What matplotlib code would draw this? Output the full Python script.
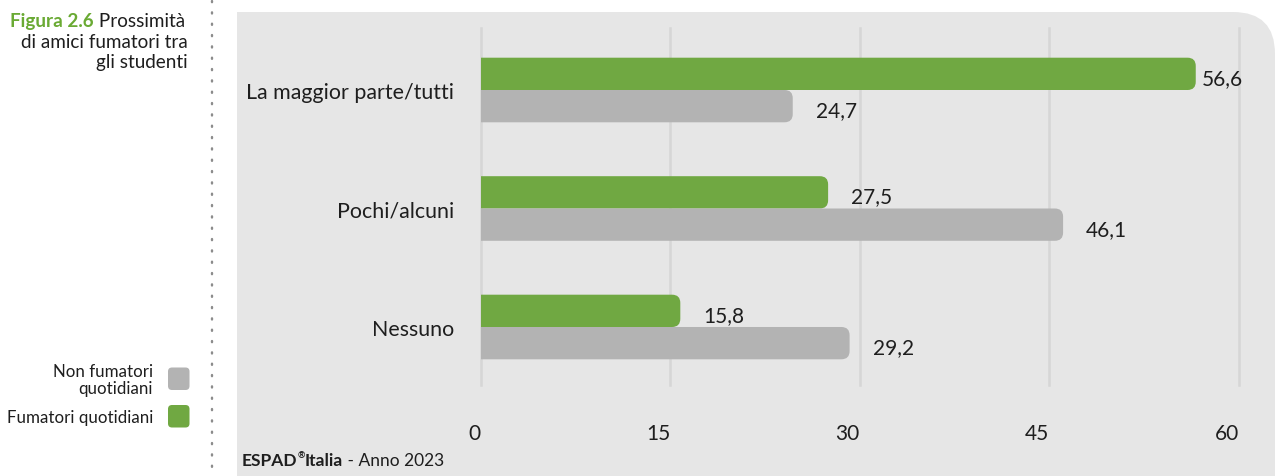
import matplotlib
matplotlib.use("Agg")
import matplotlib.pyplot as plt
from matplotlib.patches import FancyBboxPatch, Rectangle
import numpy as np

# --- DATA ---------------------------------------------------------------------
categories = ["La maggior parte/tutti", "Pochi/alcuni", "Nessuno"]
fumatori = [56.6, 27.5, 15.8]
non_fumatori = [24.7, 46.1, 29.2]
ticks = [0, 15, 30, 45, 60]
series_names = ["Non fumatori\nquotidiani", "Fumatori quotidiani"]

# --- STYLE --------------------------------------------------------------------
GREEN = "#70A842"
GREY = "#B3B3B3"
PANEL = "#E6E6E6"
GRID = "#D6D6D6"
TEXT = "#1E1E1E"
TITLE_GREEN = "#6AAA34"

plt.rcParams["font.family"] = ["Lato", "DejaVu Sans"]

W, H = 1275, 477
fig = plt.figure(figsize=(W / 100, H / 100), dpi=100)
fig.patch.set_facecolor("white")

# background layer in pixel units
bg = fig.add_axes([0, 0, 1, 1], zorder=0)
bg.set_xlim(0, W)
bg.set_ylim(H, 0)
bg.axis("off")

# grey panel with a rounded top-right corner
bg.add_patch(FancyBboxPatch((237, 13), W - 237, H + 60,
                            boxstyle="round,pad=0,rounding_size=42",
                            fc=PANEL, ec="none"))
bg.add_patch(Rectangle((237, 13), 100, 100, fc=PANEL, ec="none"))

# dotted separator
bg.plot([212, 212], [2, H], color="#8C8C8C", lw=1.7,
        linestyle=(0, (0.5, 4.3)), dash_capstyle="round")

# title
TS = 13.6
t1 = bg.text(10, 27, "Figura 2.6", color=TITLE_GREEN, fontsize=TS,
             fontweight="bold", va="baseline", ha="left")
bg.annotate(" Prossimità", xy=(1, 0), xycoords=t1, va="bottom", ha="left",
            color=TEXT, fontsize=TS)
bg.text(188, 47.5, "di amici fumatori tra", color=TEXT, fontsize=TS,
        ha="right", va="baseline")
bg.text(188, 68, "gli studenti", color=TEXT, fontsize=TS,
        ha="right", va="baseline")

# legend
for name, col, yc in zip(series_names, [GREY, GREEN], [379.5, 417]):
    bg.add_patch(FancyBboxPatch((168, yc - 11), 21.5, 22.5,
                                boxstyle="round,pad=0,rounding_size=4",
                                fc=col, ec="none"))
    bg.text(153, yc + 1, name, color=TEXT, fontsize=12.2, ha="right",
            va="center", multialignment="right", linespacing=1.05)

# source line
s1 = bg.text(242, 466, "ESPAD", color=TEXT, fontsize=12.5, fontweight="bold",
             va="baseline", ha="left")
s2 = bg.annotate("®", xy=(1, 0.55), xycoords=s1, va="bottom", ha="left",
                 color=TEXT, fontsize=6.5, fontweight="bold")
s3 = bg.annotate("Italia", xy=(1, 0), xycoords=(s2, s1), va="bottom",
                 ha="left", color=TEXT, fontsize=12.5, fontweight="bold")
bg.annotate(" - Anno 2023", xy=(1, 0), xycoords=s3, va="bottom", ha="left",
            color=TEXT, fontsize=12.5)

# --- BAR CHART ----------------------------------------------------------------
ax = fig.add_axes([480.7 / W, 1 - 386 / H, 758 / W, 357 / H], zorder=1)
ax.patch.set_visible(False)
ax.set_xlim(0, 60)
ax.set_ylim(2.4895, -0.5232)

h = 0.2726
y = np.arange(len(categories))
bars_g = ax.barh(y - h / 2, fumatori, height=h, color=GREEN)
bars_n = ax.barh(y + h / 2, non_fumatori, height=h, color=GREY)

# replace plain rectangles with bars rounded on the right end
px_x = 758 / 60
px_y = 357 / (2.4895 + 0.5232)
aspect = px_x / px_y
for bars, col in [(bars_g, GREEN), (bars_n, GREY)]:
    for r in bars:
        x0, y0, w, hh = r.get_x(), r.get_y(), r.get_width(), r.get_height()
        ax.add_patch(FancyBboxPatch((x0 - 1.5, y0), w + 1.5, hh,
                                    boxstyle="round,pad=0,rounding_size=0.65",
                                    mutation_aspect=aspect,
                                    fc=col, ec="none", zorder=3))
        r.set_visible(False)

# value labels
for vals, off_y in [(fumatori, -h / 2), (non_fumatori, h / 2)]:
    for i, v in enumerate(vals):
        gap = 4 if v > 52 else 16.5
        ax.annotate(f"{v:.1f}".replace(".", ","), xy=(v, i + off_y),
                    xytext=(gap, -3), textcoords="offset points",
                    ha="left", va="center", fontsize=15, color=TEXT,
                    annotation_clip=False)

ax.set_xticks(ticks)
ax.set_xticklabels([str(t) for t in ticks], ha="right")
ax.set_yticks(y)
ax.set_yticklabels(categories)
ax.tick_params(axis="x", length=0, pad=27.5, labelsize=15, labelcolor=TEXT)
ax.tick_params(axis="y", length=0, pad=19, labelsize=15.4, labelcolor=TEXT)
ax.grid(axis="x", color=GRID, lw=1.8)
ax.set_axisbelow(True)
for gl in ax.get_xgridlines():
    gl.set_clip_on(False)
for sp in ax.spines.values():
    sp.set_visible(False)

fig.savefig("out.png", dpi=100)
